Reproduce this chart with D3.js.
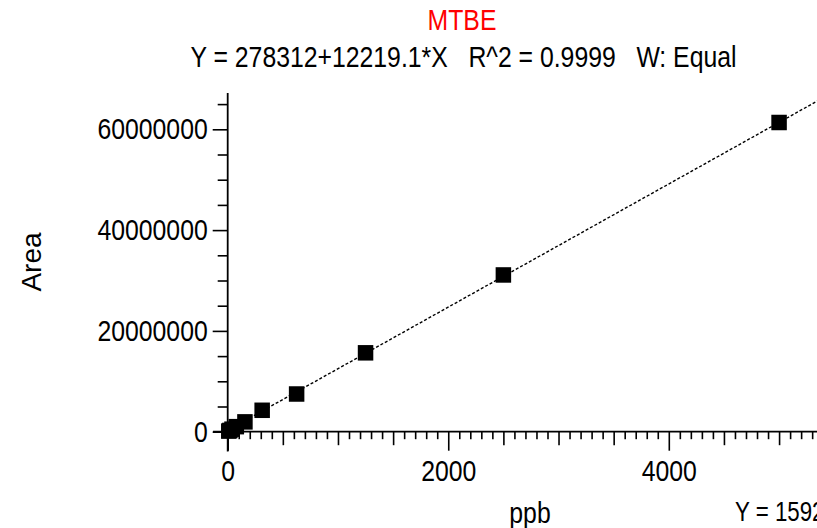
<!DOCTYPE html>
<html>
<head>
<meta charset="utf-8">
<script src="https://cdn.jsdelivr.net/npm/d3@7"></script>
<style>
  html, body { margin: 0; padding: 0; background: #fff; }
  svg { display: block; }
  text { font-family: "Liberation Sans", Arial, sans-serif; fill: #000; }
</style>
</head>
<body>
<svg id="chart" width="817" height="528"></svg>
<script>
// ---- data ----
const title = "MTBE";
const equation = "Y = 278312+12219.1*X   R^2 = 0.9999   W: Equal";
const footText = "Y = 1592";
const xLabel = "ppb";
const yLabel = "Area";
const ppb  = [5000, 2500, 1250, 625, 312.5, 156.25, 78.125, 39.0625, 19.53, 9.77];
const area = [61350000, 31100000, 15650000, 7480000, 4250000, 1950000, 1000000, 500000, 250000, 120000];
const fitIntercept = 278312;
const fitSlope = 12219.1;
const xMajorTicks = [0, 2000, 4000];
const xMediumTicks = [500, 1000, 1500, 2500, 3000, 3500, 4500, 5000];
const xMinorTicks = d3.range(100, 5400, 100).filter(v => v % 500 !== 0);
const yMajorTicks = [0, 20000000, 40000000, 60000000];
const yMinorTicks = [5000000, 10000000, 15000000, 25000000, 30000000, 35000000, 45000000, 50000000, 55000000, 65000000];

const svg = d3.select("#chart");
const FS = 30;
const SQUEEZE = 0.826;

const x = d3.scaleLinear().domain([0, 4000]).range([227.7, 668.8]);
const y = d3.scaleLinear().domain([0, 60000000]).range([431.7, 129.3]);

function squeeze(sel, f) {
  sel.each(function () {
    const len = this.getComputedTextLength();
    if (len > 0) {
      d3.select(this).attr("textLength", len * f).attr("lengthAdjust", "spacingAndGlyphs");
    }
  });
}

// ---- fit line ----
const xLo = 0, xHi = 5500;
svg.append("line")
  .attr("x1", x(xLo)).attr("y1", y(fitIntercept + fitSlope * xLo))
  .attr("x2", x(xHi)).attr("y2", y(fitIntercept + fitSlope * xHi))
  .attr("stroke", "#000").attr("stroke-width", 1.4)
  .attr("stroke-dasharray", "3,2");

// ---- axes ----
function styleAxis(g) {
  g.select(".domain").remove();
  g.selectAll(".tick line").attr("stroke", "#000").attr("stroke-width", 1.6);
  g.selectAll(".tick text").attr("font-size", FS).attr("fill", "#000")
    .attr("font-family", "'Liberation Sans', Arial, sans-serif");
}

const yAxisX = x(0);
const xAxisY = y(0);

// x axis ticks
svg.append("g").attr("transform", `translate(0,${xAxisY})`)
  .call(d3.axisBottom(x).tickValues(xMinorTicks).tickSize(7.5).tickFormat(""))
  .call(styleAxis);
svg.append("g").attr("transform", `translate(0,${xAxisY})`)
  .call(d3.axisBottom(x).tickValues(xMediumTicks).tickSize(13.5).tickFormat(""))
  .call(styleAxis);
const xMaj = svg.append("g").attr("transform", `translate(0,${xAxisY})`)
  .call(d3.axisBottom(x).tickValues(xMajorTicks).tickSize(19).tickPadding(9.5).tickFormat(d3.format("d")))
  .call(styleAxis);
squeeze(xMaj.selectAll(".tick text"), SQUEEZE);

// y axis ticks
svg.append("g").attr("transform", `translate(${yAxisX},0)`)
  .call(d3.axisLeft(y).tickValues(yMinorTicks).tickSize(10).tickFormat(""))
  .call(styleAxis);
const yMaj = svg.append("g").attr("transform", `translate(${yAxisX},0)`)
  .call(d3.axisLeft(y).tickValues(yMajorTicks).tickSize(15).tickPadding(5).tickFormat(d3.format("d")))
  .call(styleAxis);
squeeze(yMaj.selectAll(".tick text"), SQUEEZE);

// axis lines
svg.append("line")
  .attr("x1", x(-133)).attr("x2", 817).attr("y1", xAxisY).attr("y2", xAxisY)
  .attr("stroke", "#000").attr("stroke-width", 1.8);
svg.append("line")
  .attr("x1", yAxisX).attr("x2", yAxisX).attr("y1", y(67200000)).attr("y2", y(-3950000))
  .attr("stroke", "#000").attr("stroke-width", 1.8);

// ---- points ----
const SQ = 15.5;
svg.append("g").selectAll("rect")
  .data(ppb.map((v, i) => ({ x: v, y: area[i] })))
  .join("rect")
  .attr("x", d => x(d.x) - SQ / 2)
  .attr("y", d => y(d.y) - SQ / 2)
  .attr("width", SQ).attr("height", SQ)
  .attr("fill", "#000");

// ---- texts ----
const t1 = svg.append("text").attr("x", 462).attr("y", 30)
  .attr("text-anchor", "middle").attr("font-size", FS).style("fill", "#ff0000").text(title);
squeeze(t1, SQUEEZE);
const t2 = svg.append("text").attr("x", 463.5).attr("y", 67)
  .attr("text-anchor", "middle").attr("font-size", FS).text(equation).attr("xml:space", "preserve")
  .style("white-space", "pre");
squeeze(t2, SQUEEZE);

const xl = svg.append("text").attr("x", 530).attr("y", 523)
  .attr("text-anchor", "middle").attr("font-size", FS).text(xLabel);
squeeze(xl, SQUEEZE);

svg.append("text").attr("transform", "translate(41,262) rotate(-90)")
  .attr("text-anchor", "middle").attr("font-size", 28).text(yLabel);

const ft = svg.append("text").attr("x", 735).attr("y", 521)
  .attr("text-anchor", "start").attr("font-size", 27).text(footText);
squeeze(ft, SQUEEZE);
</script>
</body>
</html>
